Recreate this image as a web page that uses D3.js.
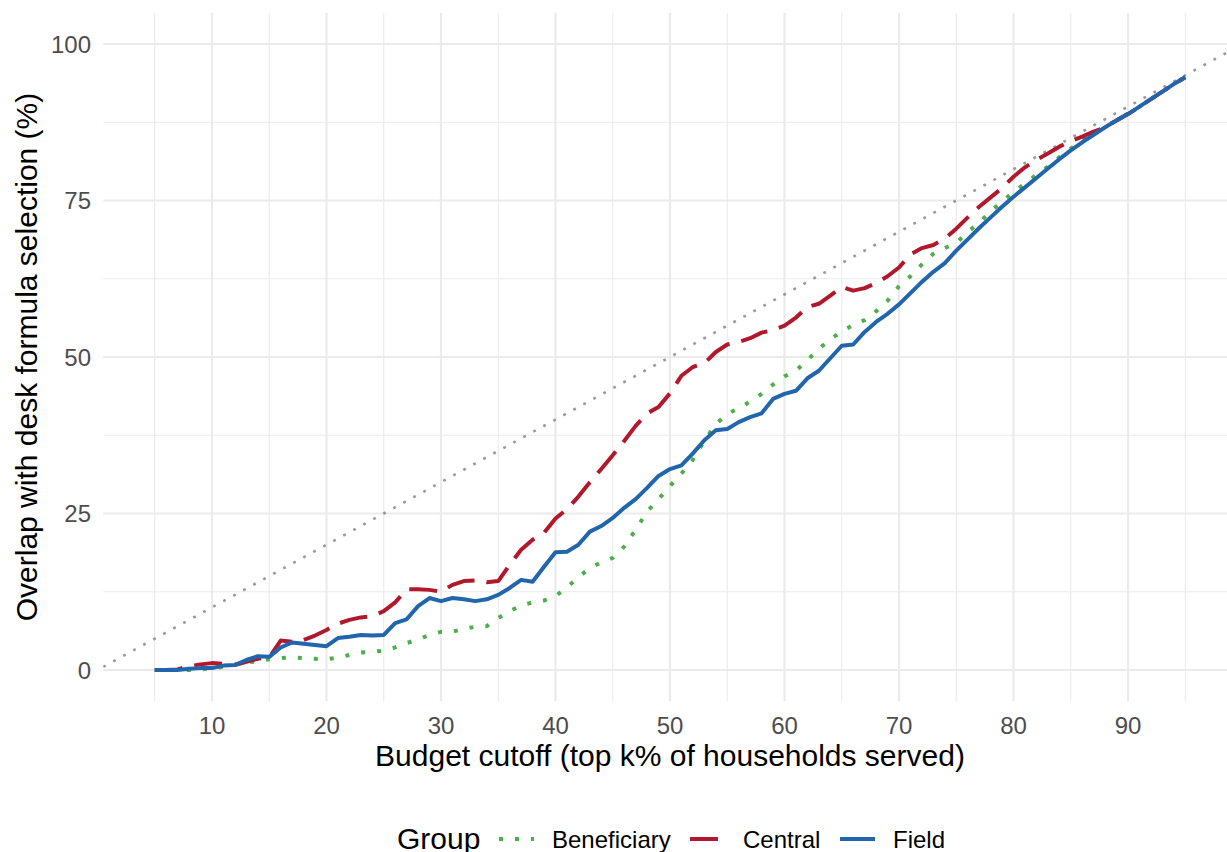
<!DOCTYPE html>
<html>
<head>
<meta charset="utf-8">
<script src="https://cdn.jsdelivr.net/npm/d3@7"></script>
<style>
  html, body { margin: 0; padding: 0; background: #ffffff; }
  svg { display: block; }
  text { font-family: "Liberation Sans", Arial, Helvetica, sans-serif; }
</style>
</head>
<body>
<svg id="chart" width="1227" height="852"></svg>
<script>
// ---- data ----
const cutoffs = d3.range(5, 96); // 5..95
const beneficiary = [0,0,0,0,0.1,0.3,0.5,0.9,1.2,1.4,1.7,1.9,2.0,1.9,1.8,1.7,2.0,2.4,2.8,2.9,3.1,3.6,4.3,4.9,5.6,6.1,6.1,6.6,6.9,7.0,8.3,9.4,10.3,10.8,11.1,11.8,13.2,14.8,16.3,17.2,17.9,19.7,22.4,25.3,27.3,29.4,31.4,33.6,36.6,39.3,40.9,41.8,42.9,44.1,45.6,46.9,47.8,49.5,51.3,52.8,54.1,55.1,55.9,57.3,59.0,61.3,62.9,64.8,66.5,67.4,68.2,70.0,71.4,73.3,74.8,76.4,77.7,79.1,80.4,81.9,83.3,84.6,85.7,86.8,87.8,88.9,90.0,91.2,92.4,93.6,94.7];
const central = [0,0,0.1,0.6,0.9,1.1,1.0,0.8,1.3,1.8,2.0,4.7,4.5,4.8,5.5,6.4,7.4,8.0,8.4,8.6,9.4,10.8,12.9,12.9,12.8,12.5,13.6,14.2,14.3,14.0,14.2,16.8,19.2,20.8,21.9,24.2,25.7,27.7,30.0,32.1,34.3,36.6,39.0,41.0,42.0,44.2,47.0,48.4,49.0,50.8,52.0,52.4,53.0,53.9,54.3,55.0,56.3,58.0,58.5,59.8,61.2,60.6,61.0,61.8,62.9,64.3,66.4,67.4,67.9,68.9,70.5,72.3,74.0,75.5,77.0,78.8,80.3,81.5,82.5,83.6,84.5,85.2,86.0,86.7,87.8,88.8,90.0,91.2,92.4,93.6,94.7];
const field = [0,0,0,0.2,0.3,0.3,0.7,0.8,1.6,2.2,2.1,3.6,4.4,4.2,4.0,3.8,5.1,5.3,5.6,5.5,5.6,7.5,8.1,10.2,11.5,11.0,11.5,11.3,11.0,11.3,12.0,13.1,14.4,14.1,16.5,18.8,18.9,20.0,22.1,23.0,24.3,25.9,27.3,29.1,31.0,32.1,32.7,34.6,36.7,38.3,38.5,39.6,40.4,41.0,43.3,44.1,44.6,46.6,47.8,49.8,51.8,52.0,54.0,55.6,56.9,58.4,60.2,62.0,63.6,65.0,67.0,68.8,70.6,72.3,74.0,75.6,77.1,78.6,80.1,81.6,83.0,84.3,85.5,86.7,87.8,88.8,90.0,91.2,92.4,93.6,94.7];
const groupNames = ["Beneficiary", "Central", "Field"];
const xTicks = [10, 20, 30, 40, 50, 60, 70, 80, 90];
const xMinor = [5, 15, 25, 35, 45, 55, 65, 75, 85, 95];
const yTicks = [0, 25, 50, 75, 100];
const yMinor = [12.5, 37.5, 62.5, 87.5];

const xTitle = "Budget cutoff (top k% of households served)";
const yTitle = "Overlap with desk formula selection (%)";
const legendTitle = "Group";

// ---- styles ----
const colors = { Beneficiary: "#4DAF4A", Central: "#B2182B", Field: "#2166AC" };
const dashes = { Beneficiary: "4,12", Central: "28,12", Field: null };

const svg = d3.select("#chart");
const panel = { left: 103.2, right: 1236.8, top: 12.7, bottom: 701.3 };

const x = d3.scaleLinear().domain([0.5, 99.5]).range([panel.left, panel.right]);
const y = d3.scaleLinear().domain([-5, 105]).range([panel.bottom, panel.top]);

svg.append("defs").append("clipPath").attr("id", "clip")
  .append("rect").attr("x", panel.left).attr("y", panel.top)
  .attr("width", panel.right - panel.left).attr("height", panel.bottom - panel.top);

const grid = svg.append("g");
grid.selectAll(".xmin").data(xMinor).enter().append("line")
  .attr("x1", d => x(d)).attr("x2", d => x(d)).attr("y1", panel.top).attr("y2", panel.bottom)
  .attr("stroke", "#ebebeb").attr("stroke-width", 1.1);
grid.selectAll(".ymin").data(yMinor).enter().append("line")
  .attr("y1", d => y(d)).attr("y2", d => y(d)).attr("x1", panel.left).attr("x2", panel.right)
  .attr("stroke", "#ebebeb").attr("stroke-width", 1.1);
grid.selectAll(".xmaj").data(xTicks).enter().append("line")
  .attr("x1", d => x(d)).attr("x2", d => x(d)).attr("y1", panel.top).attr("y2", panel.bottom)
  .attr("stroke", "#ebebeb").attr("stroke-width", 2.2);
grid.selectAll(".ymaj").data(yTicks).enter().append("line")
  .attr("y1", d => y(d)).attr("y2", d => y(d)).attr("x1", panel.left).attr("x2", panel.right)
  .attr("stroke", "#ebebeb").attr("stroke-width", 2.2);

const plot = svg.append("g").attr("clip-path", "url(#clip)");

// diagonal reference y = x
plot.append("line")
  .attr("x1", x(0.5)).attr("y1", y(0.5)).attr("x2", x(99.5)).attr("y2", y(99.5))
  .attr("stroke", "#999999").attr("stroke-width", 2.6)
  .attr("stroke-dasharray", "2.8,8.6");

const series = [
  { name: "Beneficiary", values: beneficiary },
  { name: "Central", values: central },
  { name: "Field", values: field }
];
const line = d3.line().x(d => x(d[0])).y(d => y(d[1]));
series.forEach(s => {
  plot.append("path")
    .datum(cutoffs.map((c, i) => [c, s.values[i]]))
    .attr("d", line)
    .attr("fill", "none")
    .attr("stroke", colors[s.name])
    .attr("stroke-width", 4)
    .attr("stroke-linejoin", "round")
    .attr("stroke-dasharray", dashes[s.name]);
});

// axes tick labels
const axisG = svg.append("g");
axisG.selectAll(".xt").data(xTicks).enter().append("text")
  .attr("x", d => x(d)).attr("y", 734)
  .attr("text-anchor", "middle").attr("font-size", 24).attr("fill", "#4d4d4d")
  .text(d => d);
axisG.selectAll(".yt").data(yTicks).enter().append("text")
  .attr("x", 91).attr("y", d => y(d) + 8.6)
  .attr("text-anchor", "end").attr("font-size", 24).attr("fill", "#4d4d4d")
  .text(d => d);

// axis titles
svg.append("text")
  .attr("x", (panel.left + panel.right) / 2).attr("y", 766)
  .attr("text-anchor", "middle").attr("font-size", 30).attr("fill", "#000")
  .text(xTitle);
svg.append("text")
  .attr("transform", `translate(37,${(panel.top + panel.bottom) / 2}) rotate(-90)`)
  .attr("text-anchor", "middle").attr("font-size", 30).attr("fill", "#000")
  .text(yTitle);

// legend
const leg = svg.append("g");
const legY = 839;
leg.append("text").attr("x", 397).attr("y", legY + 10).attr("font-size", 30).attr("fill", "#000").text(legendTitle);
const keyStarts = { Beneficiary: 499, Central: 690, Field: 840 };
groupNames.forEach(n => {
  const k0 = keyStarts[n];
  leg.append("line")
    .attr("x1", k0).attr("x2", k0 + 35).attr("y1", legY).attr("y2", legY)
    .attr("stroke", colors[n]).attr("stroke-width", 4)
    .attr("stroke-dasharray", dashes[n]);
  leg.append("text").attr("x", k0 + 53).attr("y", legY + 8.6)
    .attr("font-size", 24).attr("fill", "#000").text(n);
});
</script>
</body>
</html>
